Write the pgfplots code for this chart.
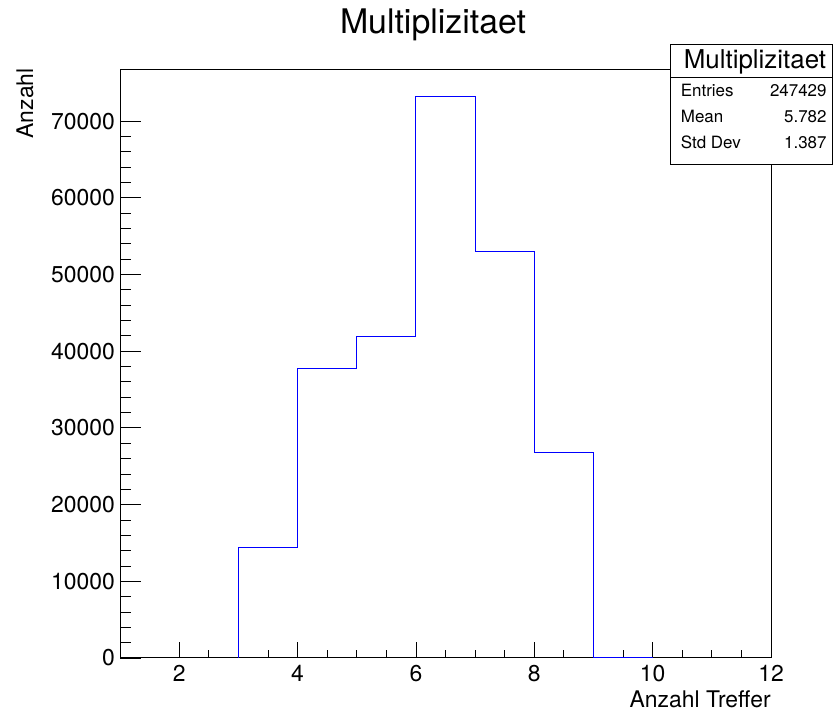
\documentclass[border=0pt]{standalone}
\usepackage{pgfplots}
\pgfplotsset{compat=1.18}
\usepackage{fontspec}
\setmainfont{TeX Gyre Heros}
\begin{document}
\begin{tikzpicture}
\useasboundingbox (0,0) rectangle (833bp,713bp);
\begin{axis}[
  at={(120bp,55bp)}, anchor=south west,
  scale only axis, width=651bp, height=588bp,
  xmin=1, xmax=12, ymin=0, ymax=76660,
  xtick={2,4,...,12}, minor x tick num=3,
  ytick={0,10000,...,70000}, minor y tick num=4,
  tick align=inside, xtick pos=bottom, ytick pos=left,
  axis line style={line width=1bp},
  xtick style={black, line width=0.8bp, /pgfplots/major tick length=16bp, /pgfplots/minor tick length=8bp},
  ytick style={black, line width=0.8bp, /pgfplots/major tick length=21bp, /pgfplots/minor tick length=11bp},
  scaled y ticks=false,
  /pgf/number format/1000 sep={},
  /pgf/number format/assume math mode=true,
  tick label style={font=\fontsize{23}{23}\selectfont, inner sep=0pt},
  xticklabel style={yshift=-7bp},
  yticklabel style={xshift=-5bp},
  xlabel={Anzahl Treffer},
  xlabel style={font=\fontsize{23}{23}\selectfont, inner sep=0pt, at={(axis description cs:1,-0.085)}, anchor=base east},
  ylabel={Anzahl},
  ylabel style={font=\fontsize{23}{23}\selectfont, inner sep=0pt, at={(axis description cs:-0.1336,1.003)}, anchor=base east},
]
\addplot[const plot, blue, line width=1bp] coordinates {
 (3,0) (3,14470) (4,37680) (5,41850) (6,73140) (7,53060) (8,26730) (9,130) (10,130) (10,0)
};
\end{axis}
% title
\node[anchor=base, inner sep=0pt, font=\fontsize{34}{34}\selectfont] at (433bp,679.7bp) {Multiplizitaet};
% stats box
\fill[white] (670.5bp,668bp) rectangle (832.5bp,548.7bp);
\draw[line width=1bp] (670.5bp,668bp) rectangle (832.5bp,548.7bp);
\draw[line width=1bp] (670.5bp,635.3bp) -- (832.5bp,635.3bp);
\node[anchor=base, inner sep=0pt, font=\fontsize{26}{26}\selectfont] at (755bp,644.7bp) {Multiplizitaet};
\node[anchor=base west, inner sep=0pt, font=\fontsize{17}{17}\selectfont] at (680.7bp,616.3bp) {Entries};
\node[anchor=base east, inner sep=0pt, font=\fontsize{17}{17}\selectfont] at (826.7bp,616.3bp) {247429};
\node[anchor=base west, inner sep=0pt, font=\fontsize{17}{17}\selectfont] at (680.7bp,590.3bp) {Mean};
\node[anchor=base east, inner sep=0pt, font=\fontsize{17}{17}\selectfont] at (826.7bp,590.3bp) {5.782};
\node[anchor=base west, inner sep=0pt, font=\fontsize{17}{17}\selectfont] at (680.7bp,564.7bp) {Std Dev};
\node[anchor=base east, inner sep=0pt, font=\fontsize{17}{17}\selectfont] at (826.7bp,564.7bp) {1.387};
\end{tikzpicture}
\end{document}
